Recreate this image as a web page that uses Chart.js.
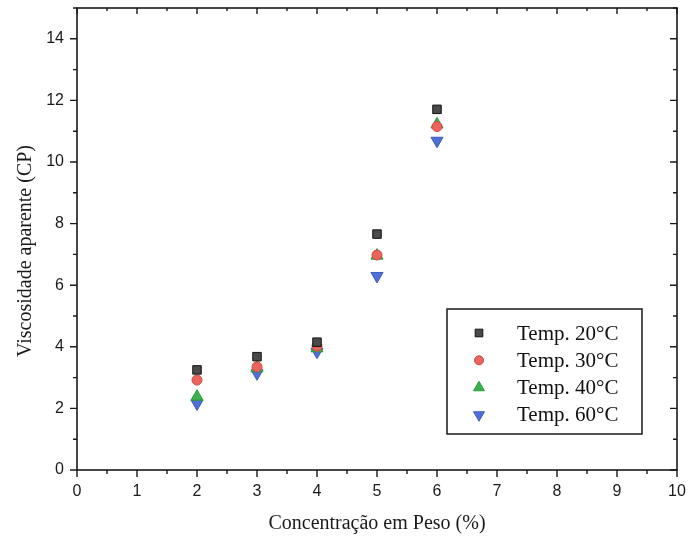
<!DOCTYPE html>
<html>
<head>
<meta charset="utf-8">
<script src="https://cdn.jsdelivr.net/npm/chart.js@4/dist/chart.umd.min.js"></script>
<style>
  html, body { margin: 0; padding: 0; background: #fff; }
  #wrap { width: 691px; height: 543px; position: relative; }
</style>
</head>
<body>
<div id="wrap"><canvas id="c"></canvas></div>
<script>
// Weight concentration (%) and apparent viscosity (cP) at four temperatures
const concentrations = [2, 3, 4, 5, 6];
const temp20 = [3.25, 3.68, 4.15, 7.66, 11.71];
const temp30 = [2.92, 3.35, 4.02, 6.98, 11.15];
const temp40 = [2.38, 3.30, 3.95, 6.96, 11.22];
const temp60 = [2.16, 3.14, 3.84, 6.30, 10.69];
const seriesLabels = ['Temp. 20°C', 'Temp. 30°C', 'Temp. 40°C', 'Temp. 60°C'];

const xTicks = [0, 1, 2, 3, 4, 5, 6, 7, 8, 9, 10];
const yTicks = [0, 2, 4, 6, 8, 10, 12, 14];
const xTitle = 'Concentração em Peso (%)';
const yTitle = 'Viscosidade aparente (CP)';

const toPoints = vals => concentrations.map((c, i) => ({ x: c, y: vals[i] }));

const styles = [
  { pointStyle: 'rect', radius: 6, bg: '#4a4a4a', border: '#111111', rot: 0 },
  { pointStyle: 'circle', radius: 5, bg: '#e8645c', border: '#d24a42', rot: 0 },
  { pointStyle: 'triangle', radius: 7, bg: '#3cb04c', border: '#2a9a3c', rot: 0 },
  { pointStyle: 'triangle', radius: 7, bg: '#4f70d4', border: '#3d5cc0', rot: 180 }
];
const seriesValues = [temp20, temp30, temp40, temp60];

const datasets = seriesValues.map((vals, i) => ({
  label: seriesLabels[i],
  data: toPoints(vals),
  pointStyle: styles[i].pointStyle,
  pointRadius: styles[i].radius,
  pointRotation: styles[i].rot,
  pointBackgroundColor: styles[i].bg,
  pointBorderColor: styles[i].border,
  pointBorderWidth: 1,
  showLine: false
}));

const titleFontCss = '20px "Liberation Serif", "Times New Roman", serif';

// Boxed frame with major/minor ticks: outward on bottom/left, inward on top/right
const framePlugin = {
  id: 'frame',
  afterDraw(chart) {
    const { ctx, chartArea: a, scales: { x, y } } = chart;
    ctx.save();
    ctx.strokeStyle = '#1a1a1a';
    ctx.lineWidth = 1.6;
    ctx.strokeRect(a.left, a.top, a.right - a.left, a.bottom - a.top);
    ctx.lineWidth = 1.4;
    ctx.beginPath();
    for (let v = x.min; v <= x.max + 1e-9; v += 0.5) {
      const px = x.getPixelForValue(v);
      const major = Math.abs(v - Math.round(v)) < 1e-9;
      const len = major ? 7 : 4;
      ctx.moveTo(px, a.bottom); ctx.lineTo(px, a.bottom + len);
      ctx.moveTo(px, a.top); ctx.lineTo(px, a.top + len - 1);
    }
    for (let v = y.min; v <= y.max + 1e-9; v += 1) {
      const py = y.getPixelForValue(v);
      const major = v % 2 === 0;
      const len = major ? 7 : 4;
      ctx.moveTo(a.left, py); ctx.lineTo(a.left - len, py);
      ctx.moveTo(a.right, py); ctx.lineTo(a.right - len, py);
    }
    ctx.stroke();

    // vertical axis title
    ctx.fillStyle = '#1a1a1a';
    ctx.font = titleFontCss;
    ctx.textAlign = 'center';
    ctx.textBaseline = 'middle';
    ctx.translate(26, 251);
    ctx.rotate(-Math.PI / 2);
    ctx.fillText(yTitle, 0, 0);
    ctx.restore();
  }
};

// Boxed legend inside the plot area
const legendBox = {
  id: 'legendBox',
  afterDraw(chart) {
    const { ctx } = chart;
    const left = 447, top = 309, w = 195, h = 125;
    ctx.save();
    ctx.fillStyle = '#ffffff';
    ctx.fillRect(left, top, w, h);
    ctx.strokeStyle = '#1a1a1a';
    ctx.lineWidth = 1.5;
    ctx.strokeRect(left, top, w, h);
    ctx.font = '21px "Liberation Serif", "Times New Roman", serif';
    ctx.textBaseline = 'middle';
    ctx.textAlign = 'left';
    chart.data.datasets.forEach((ds, i) => {
      const cy = top + 24 + i * 27.3;
      ctx.fillStyle = ds.pointBackgroundColor;
      ctx.strokeStyle = ds.pointBorderColor;
      ctx.lineWidth = 1;
      Chart.helpers.drawPoint(ctx, {
        pointStyle: ds.pointStyle,
        radius: ds.pointRadius * 0.9,
        rotation: ds.pointRotation,
        borderWidth: 1
      }, left + 32, cy);
      ctx.fillStyle = '#111';
      ctx.fillText(ds.label, left + 70, cy + 1);
    });
    ctx.restore();
  }
};

const tickFont = { family: '"Liberation Sans", Arial, sans-serif', size: 16 };
const titleFont = { family: '"Liberation Serif", "Times New Roman", serif', size: 20 };

new Chart(document.getElementById('c'), {
  type: 'scatter',
  data: { datasets },
  options: {
    responsive: true,
    maintainAspectRatio: false,
    animation: false,
    layout: { padding: { top: 8, right: 14, left: 0, bottom: 0 } },
    plugins: { legend: { display: false }, tooltip: { enabled: false } },
    scales: {
      x: {
        type: 'linear', min: 0, max: 10,
        afterBuildTicks: s => { s.ticks = xTicks.map(v => ({ value: v })); },
        afterFit: s => { s.height = 73; s.paddingLeft = 0; s.paddingRight = 0; },
        grid: { display: false, drawTicks: false },
        border: { display: false },
        ticks: { color: '#1a1a1a', font: tickFont, padding: 12, maxRotation: 0 },
        title: { display: true, text: xTitle, color: '#1a1a1a', font: titleFont, padding: { top: 0, bottom: 7 } }
      },
      y: {
        type: 'linear', min: 0, max: 15,
        afterBuildTicks: s => { s.ticks = yTicks.map(v => ({ value: v })); },
        afterFit: s => { s.width = 77; s.paddingTop = 0; s.paddingBottom = 0; },
        grid: { display: false, drawTicks: false },
        border: { display: false },
        ticks: { color: '#1a1a1a', font: tickFont, padding: 13 }
      }
    }
  },
  plugins: [framePlugin, legendBox]
});
</script>
</body>
</html>
